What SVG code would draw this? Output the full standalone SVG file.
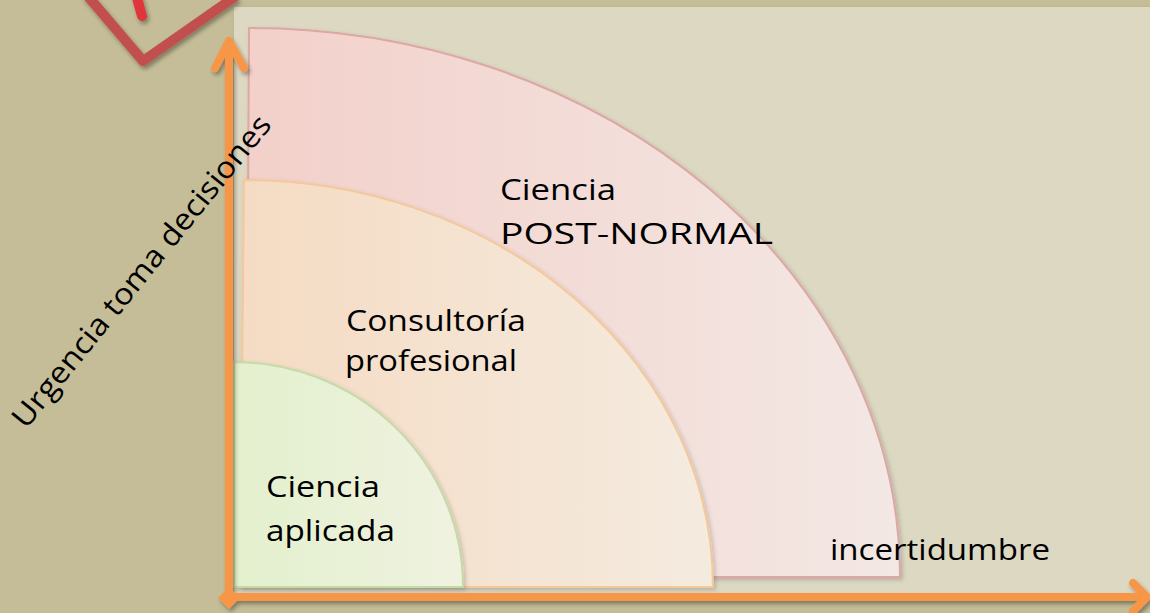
<svg xmlns="http://www.w3.org/2000/svg" width="1150" height="613" viewBox="0 0 1150 613">
  <defs>
    <linearGradient id="gPink" x1="0" y1="0" x2="1" y2="0">
      <stop offset="0" stop-color="#F3D0CA"/>
      <stop offset="1" stop-color="#F3E8E4"/>
    </linearGradient>
    <linearGradient id="gPeach" x1="0" y1="0" x2="1" y2="0">
      <stop offset="0" stop-color="#F5DBC3"/>
      <stop offset="1" stop-color="#F4EBDF"/>
    </linearGradient>
    <linearGradient id="gGreen" x1="0" y1="0" x2="1" y2="0">
      <stop offset="0" stop-color="#E3F0CD"/>
      <stop offset="1" stop-color="#EFF2E0"/>
    </linearGradient>
    <filter id="shadow" x="-10%" y="-10%" width="130%" height="130%">
      <feDropShadow dx="2" dy="3" stdDeviation="2" flood-color="#000" flood-opacity="0.35"/>
    </filter>
    <filter id="softShadow" x="-10%" y="-10%" width="130%" height="130%">
      <feDropShadow dx="2" dy="2" stdDeviation="2" flood-color="#000" flood-opacity="0.18"/>
    </filter>
  </defs>
  <style>
    .lbl { font-family: "Open Sans", "DejaVu Sans", sans-serif; font-size: 30px; fill: #000; }
    .axis { stroke: #F79646; stroke-width: 8; fill: none; stroke-linecap: round; stroke-linejoin: round; }
  </style>

  <rect x="0" y="0" width="1150" height="613" fill="#C4BD97"/>
  <rect id="panel" x="234" y="7" width="916" height="590" fill="#DDD8C2" filter="url(#softShadow)"/>

  <g id="red-frame" filter="url(#shadow)">
    <polyline points="86,-6 143,61 236,-4" fill="none" stroke="#C0504D" stroke-width="10" stroke-linejoin="round"/>
    <line x1="137" y1="-2" x2="142" y2="16" stroke="#E0353B" stroke-width="10" stroke-linecap="round"/>
  </g>

  <g id="post-normal">
    <path d="M249,28 A651,549 0 0 1 900,577 L246,577 Z" fill="url(#gPink)" stroke="#DCA7A4" stroke-width="2" filter="url(#softShadow)"/>
    <text class="lbl" x="500" y="200" textLength="116" lengthAdjust="spacingAndGlyphs">Ciencia</text>
    <text class="lbl" x="500" y="244" textLength="273" lengthAdjust="spacingAndGlyphs">POST-NORMAL</text>
  </g>

  <g id="consultoria">
    <path d="M244,180 A469,407 0 0 1 713,587 L240,587 Z" fill="url(#gPeach)" stroke="#F5C89A" stroke-width="2" filter="url(#softShadow)"/>
    <text class="lbl" x="346" y="331" textLength="180" lengthAdjust="spacingAndGlyphs">Consultoría</text>
    <text class="lbl" x="345" y="371" textLength="172" lengthAdjust="spacingAndGlyphs">profesional</text>
  </g>

  <g id="aplicada">
    <path d="M234,362 A229,225 0 0 1 463,587 L234,587 Z" fill="url(#gGreen)" stroke="#C5DAA6" stroke-width="2" filter="url(#softShadow)"/>
    <text class="lbl" x="266" y="497" textLength="114" lengthAdjust="spacingAndGlyphs">Ciencia</text>
    <text class="lbl" x="266" y="541" textLength="129" lengthAdjust="spacingAndGlyphs">aplicada</text>
  </g>

  <g id="connectors" filter="url(#shadow)">
    <line class="axis" x1="229" y1="598" x2="229" y2="42"/>
    <polyline class="axis" points="215,68 229,41 244,68"/>
    <line class="axis" x1="229" y1="597" x2="1146" y2="597"/>
    <polyline class="axis" points="1133,583 1147,597 1133,611"/>
    <path d="M229,587 L240,598 L229,609 L218,598 Z" fill="#F79646"/>
  </g>

  <g id="axis-labels">
    <text class="lbl" x="0" y="0" transform="translate(26,430) rotate(-51)" textLength="392" lengthAdjust="spacingAndGlyphs">Urgencia toma decisiones</text>
    <text class="lbl" x="830" y="560" textLength="220" lengthAdjust="spacingAndGlyphs">incertidumbre</text>
  </g>
</svg>
